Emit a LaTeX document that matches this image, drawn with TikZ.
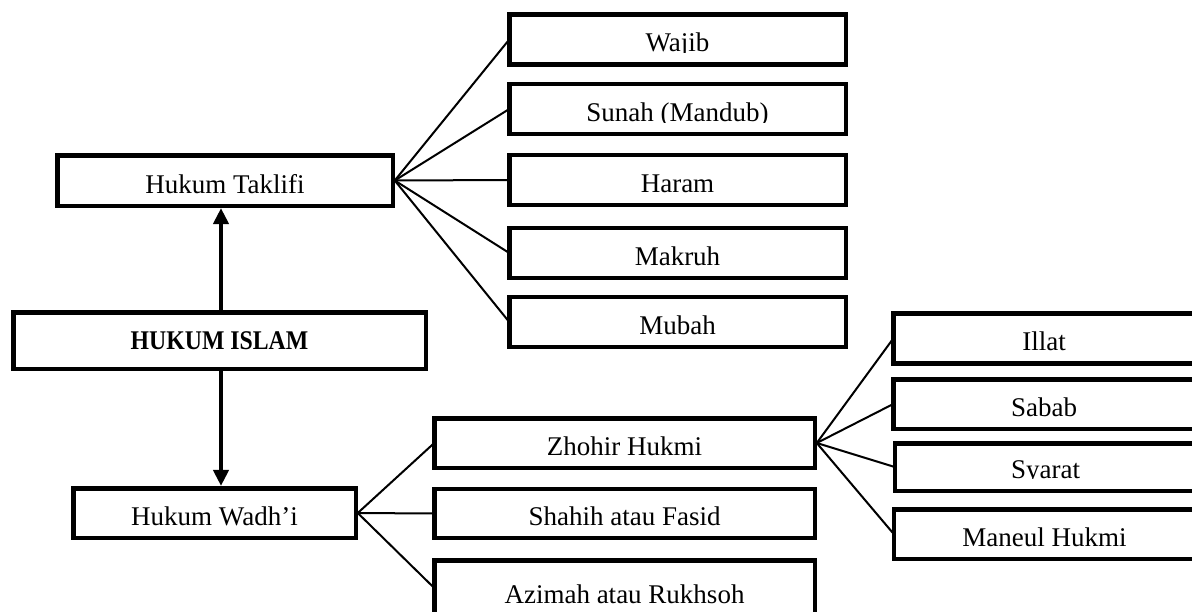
\documentclass[tikz,border=0pt]{standalone}
\usepackage{fontspec}
\setmainfont{Liberation Serif}
\newfontfamily\hbfont[FakeStretch=0.88]{Liberation Serif}
\usetikzlibrary{arrows.meta,calc}
\begin{document}
\begin{tikzpicture}[x=1pt,y=-1pt,
  txtfont/.style={font=\fontsize{27}{32}\selectfont},
  box/.style={draw, line width=4.5pt, inner sep=0pt, outer sep=0pt, minimum height=50pt},
  lbl/.style={path picture={
      \clip (path picture bounding box.north west) rectangle ([yshift=11.8pt]path picture bounding box.south east);
      \node[anchor=base, inner sep=0pt, txtfont] at ([yshift=12.6pt]path picture bounding box.south) {#1};}},
  colA/.style={box, minimum width=336.5pt},
  colB/.style={box, minimum width=380.5pt},
  colC/.style={box, minimum width=301.5pt},
  fan/.style={line width=2pt},
  arr/.style={line width=4.6pt, -{Triangle[length=16pt,width=15pt]}}
]
\useasboundingbox (0,0) rectangle (1192,611);
\clip (0,0) rectangle (1192,611);

% main nodes
\node[box, minimum width=335.5pt, minimum height=50.5pt, lbl={Hukum Taklifi}] (tk) at (225,180.5) {};
\node[box, minimum width=412.5pt, minimum height=56.5pt, font=\hbfont\bfseries\fontsize{27}{32}\selectfont] (hi) at (219.5,340.5) {HUKUM ISLAM};
\node[box, minimum width=282.5pt, minimum height=49.5pt, lbl={Hukum Wadh'i}] (wd) at (214.5,513) {};

% Taklifi children
\node[colA, lbl={Wajib}] (wajib) at (677.5,39.5) {};
\node[colA, lbl={Sunah (Mandub)}] (sunah) at (677.5,109) {};
\node[colA, lbl={Haram}] (haram) at (677.5,180) {};
\node[colA, lbl={Makruh}] (makruh) at (677.5,253) {};
\node[colA, lbl={Mubah}] (mubah) at (677.5,322) {};

% Wadh'i children
\node[colB, minimum height=49.5pt, lbl={Zhohir Hukmi}] (zh) at (624.5,443) {};
\node[colB, minimum height=49pt, lbl={Shahih atau Fasid}] (sf) at (624.5,513.5) {};
\node[colB, minimum height=55.5pt, lbl={Azimah atau Rukhsoh}] (ar) at (624.5,588) {};

% Zhohir children
\node[colC, lbl={Illat}] (illat) at (1044,338.5) {};
\node[colC, minimum height=49.5pt, lbl={Sabab}] (sabab) at (1044,404) {};
\node[colC, minimum height=47.5pt, lbl={Syarat}] (syarat) at (1045.5,467) {};
\node[colC, minimum height=49.5pt, lbl={Maneul Hukmi}] (maneul) at (1044.5,534) {};

% arrows
\coordinate (ax) at (221,0);
\draw[arr] (ax |- hi.north) -- ($(ax |- tk.south)+(0,2.3)$);
\draw[arr] (ax |- hi.south) -- ($(ax |- wd.north)+(0,-2.3)$);

% fans
\foreach \c in {wajib,sunah,haram,makruh,mubah}
  \draw[fan] ($(tk.east)+(2,0)$) -- (\c.west);
\foreach \c in {zh,sf,ar}
  \draw[fan] ($(wd.east)+(2,0)$) -- (\c.west);
\foreach \c in {illat,sabab,syarat,maneul}
  \draw[fan] ($(zh.east)+(2,0)$) -- (\c.west);
\end{tikzpicture}
\end{document}
